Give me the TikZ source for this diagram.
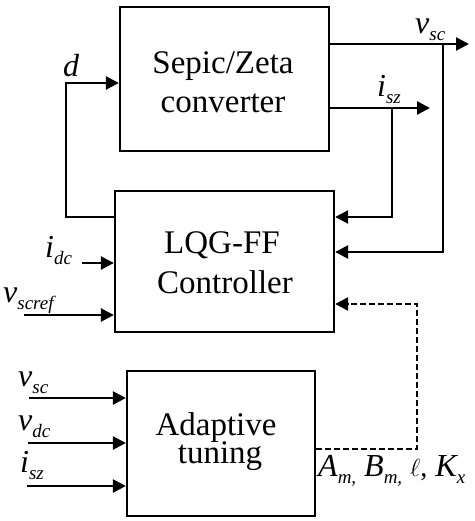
\documentclass[tikz,border=0pt]{standalone}
\usepackage{fontspec}
\setmainfont{Liberation Serif}
\usetikzlibrary{arrows.meta}
\newcommand{\lbl}[2]{{\fontsize{32}{32}\selectfont\itshape #1\raisebox{-7pt}{\fontsize{19}{19}\selectfont #2}}}
\begin{document}
\begin{tikzpicture}[x=1pt,y=-1pt,
  blk/.style={draw,line width=2.3pt,minimum width=#1,inner sep=0pt},
  txt/.style={font=\fontsize{33}{33}\selectfont,anchor=base,inner sep=0pt},
  lab/.style={anchor=base west,inner sep=0pt,font=\fontsize{32}{32}\selectfont},
  wire/.style={line width=2.5pt},
  arr/.style={wire,-{Triangle[length=13pt,width=13pt]}},
  dsh/.style={arr,dash pattern=on 6pt off 3pt}]
\useasboundingbox (0,0) rectangle (474,521);
% blocks
\node[blk=209pt,minimum height=144pt] (conv) at (224.5,79) {};
\node[blk=219pt,minimum height=141pt] (ctrl) at (224.5,261.5) {};
\node[blk=188pt,minimum height=145pt] (adap) at (221,443.5) {};
\node[txt] (c1) at (223,74) {Sepic/Zeta};
\node[txt] (c2) at (223,113) {converter};
\node[txt] (k1) at (222,253) {LQG-FF};
\node[txt] (k2) at (225,293) {Controller};
\node[txt] (a1) at (216,435) {Adaptive};
\node[txt] (a2) at (220,463) {tuning};
% coordinates
\coordinate (vscend) at (469,44);
\coordinate (vscbr) at (443,44);
\coordinate (iszend) at (430,108);
\coordinate (iszbr) at (392,108);
\coordinate (dl) at (66,217);
\coordinate (dt) at (66,83);
\coordinate (idc) at (82,263);
\coordinate (vref) at (24,315);
\coordinate (in1) at (29,398);
\coordinate (in2) at (28,443);
\coordinate (in3) at (27,486);
\coordinate (dr) at (417,449);
\coordinate (du) at (417,304);
% wires
\draw[arr] (conv.east |- vscend) -- (vscend);
\draw[arr] (vscbr) |- (ctrl.east |- 0,252);
\draw[arr] (conv.east |- iszend) -- (iszend);
\draw[arr] (iszbr) |- (ctrl.east |- 0,217);
\draw[arr] (ctrl.west |- dl) -- (dl) -- (dt) -- (conv.west |- dt);
\draw[arr] (idc) -- (ctrl.west |- idc);
\draw[arr] (vref) -- (ctrl.west |- vref);
\draw[arr] (in1) -- (adap.west |- in1);
\draw[arr] (in2) -- (adap.west |- in2);
\draw[arr] (in3) -- (adap.west |- in3);
\draw[dsh] (adap.east |- dr) -- (dr) -- (du) -- (ctrl.east |- du);
% labels
\node[lab] (lvsc) at (415,34) {\lbl{v}{sc}};
\node[lab] (lisz) at (377,97) {\lbl{i}{sz}};
\node[lab] (ld) at (63,77) {\lbl{d}{}};
\node[lab] (lidc) at (45,257) {\lbl{i}{dc}};
\node[lab] (lvref) at (3,302) {\lbl{v}{scref}};
\node[lab] (lvsc2) at (18,386) {\lbl{v}{sc}};
\node[lab] (lvdc) at (18,430) {\lbl{v}{dc}};
\node[lab] (lisz2) at (20,472) {\lbl{i}{sz}};
\node[lab] (lpar) at (318,476) {\lbl{A}{m,} \lbl{B}{m,} {\fontsize{28}{28}\selectfont$\ell$,} \lbl{K}{x}};
\end{tikzpicture}
\end{document}
